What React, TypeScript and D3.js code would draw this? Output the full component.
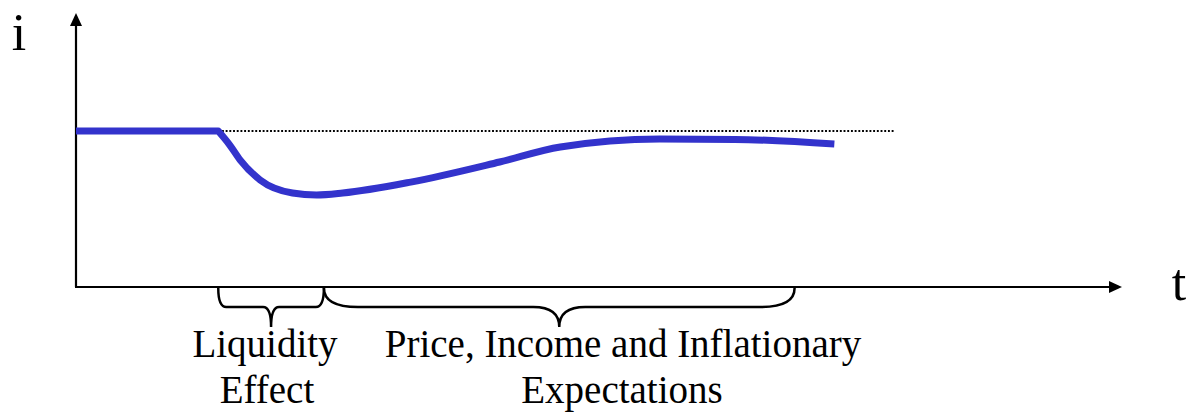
import * as d3 from 'd3';

// time (arbitrary units) and interest rate (arbitrary units)
const flatT = [0, 13.6];
const flatI = [8, 8];
const curveT = [13.6, 14.7, 15.7, 17.6, 20.7, 23.0, 25.5, 32.0, 40.5, 46.3, 55.8, 63.0, 72.5];
const curveI = [8.0, 7.28, 6.51, 5.49, 4.82, 4.72, 4.82, 5.38, 6.41, 7.18, 7.59, 7.57, 7.33];
const baseLevel = 8;
const baseEnd = 78.3;

// brace spans in time units
const braces = [
  { from: 13.6, to: 23.7, r: 8, m: 8, lines: ['Liquidity', 'Effect'], cx: [265, 267] },
  { from: 23.7, to: 68.7, r: 34, m: 26, lines: ['Price, Income and Inflationary', 'Expectations'], cx: [623, 622] },
];

const W = 1202;
const H = 419;

const App = () => {
  const x = d3.scaleLinear().domain([0, 100]).range([76, 1122]);
  const y = d3.scaleLinear().domain([0, 14]).range([287, 14]);

  const line = d3
    .line<[number, number]>()
    .x((d) => x(d[0]))
    .y((d) => y(d[1]));

  const flatPath = line(flatT.map((t, k) => [t, flatI[k]]))!;
  const curvePath = line.curve(d3.curveMonotoneX)(curveT.map((t, k) => [t, curveI[k]]))!;
  const rate = flatPath + curvePath.replace(/^M/, 'L');

  const y0 = y(0) + 1;
  const yMid = 307;
  const yTip = 327;
  const bracePath = (b) => {
    const x0 = x(b.from);
    const x1 = x(b.to);
    const xm = (x0 + x1) / 2;
    return `M${x0},${y0} Q${x0},${yMid} ${x0 + b.r},${yMid} L${xm - b.m},${yMid} Q${xm},${yMid} ${xm},${yTip} Q${xm},${yMid} ${xm + b.m},${yMid} L${x1 - b.r},${yMid} Q${x1},${yMid} ${x1},${y0}`;
  };

  const font = "'Times New Roman', 'Liberation Serif', serif";

  return (
    <svg width={W} height={H} style={{ position: 'absolute', left: 0, top: 0, background: '#fff' }}>
      {/* axes */}
      <line x1={x(0)} y1={y(0)} x2={x(0)} y2={24} stroke="#000" strokeWidth={2.2} />
      <path d={`M${x(0)},13 L${x(0) - 6},26 L${x(0) + 6},26 Z`} fill="#000" />
      <line x1={x(0) - 1} y1={y(0)} x2={1110} y2={y(0)} stroke="#000" strokeWidth={2.2} />
      <path d={`M1122,${y(0)} L1109,${y(0) - 6} L1109,${y(0) + 6} Z`} fill="#000" />
      <text x={19} y={50} fontFamily={font} fontSize={52} textAnchor="middle">i</text>
      <text x={1179} y={300} fontFamily={font} fontSize={52} textAnchor="middle">t</text>

      {/* initial level */}
      <line
        x1={x(flatT[1])}
        y1={y(baseLevel)}
        x2={x(baseEnd)}
        y2={y(baseLevel)}
        stroke="#000"
        strokeWidth={2}
        strokeDasharray="1.9 1.8"
      />

      {/* interest rate path */}
      <path d={rate} fill="none" stroke="#3333cc" strokeWidth={7} strokeLinejoin="round" />

      {/* braces + labels */}
      {braces.map((b, k) => (
        <g key={k}>
          <path d={bracePath(b)} fill="none" stroke="#000" strokeWidth={2.5} />
          {b.lines.map((s, j) => (
            <text key={j} x={b.cx[j]} y={357 + j * 46} fontFamily={font} fontSize={39} textAnchor="middle">
              {s}
            </text>
          ))}
        </g>
      ))}
    </svg>
  );
};

export default App;
